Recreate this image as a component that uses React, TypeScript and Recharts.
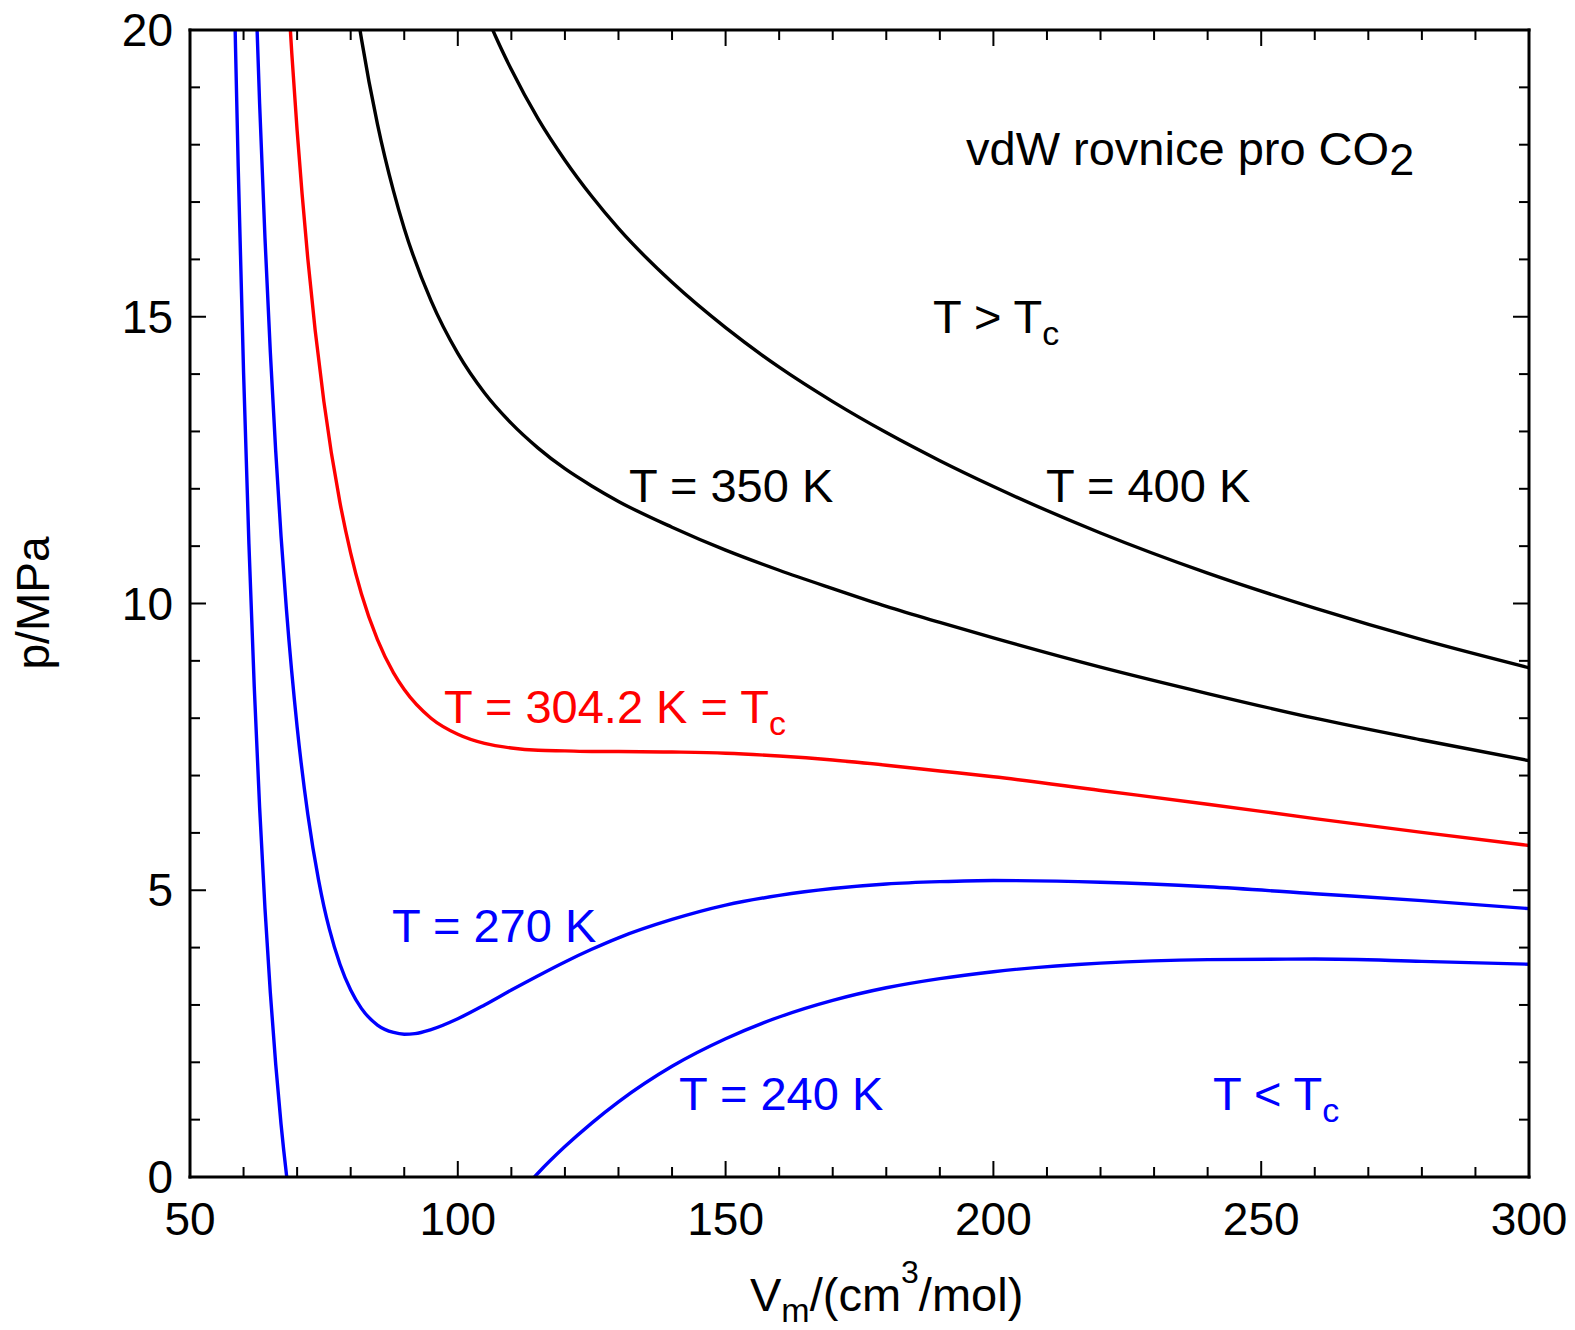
import { LineChart, Line, XAxis, YAxis } from 'recharts';

// isotherms: molar volume (cm3/mol) and pressure (MPa)
const t400V = [105, 107, 110, 115, 120, 125, 130, 140, 150, 160, 170, 180, 190, 200, 220, 240, 260, 280, 300];
const t400P = [20.34, 19.9, 19.31, 18.45, 17.73, 17.1, 16.54, 15.6, 14.81, 14.12, 13.52, 12.98, 12.49, 12.04, 11.23, 10.53, 9.92, 9.37, 8.88];

const t350V = [80, 82, 85, 88, 90, 95, 100, 105, 110, 115, 120, 125, 130, 140, 150, 160, 170, 180, 190, 200, 220, 240, 260, 280, 300];
const t350P = [21.07, 19.85, 18.36, 17.19, 16.54, 15.28, 14.36, 13.67, 13.14, 12.71, 12.35, 12.05, 11.78, 11.33, 10.93, 10.58, 10.26, 9.95, 9.67, 9.4, 8.89, 8.43, 8.0, 7.62, 7.26];

const tcV = [68, 69, 70, 72, 75, 78, 80, 82, 85, 88, 90, 95, 100, 105, 110, 115, 120, 125, 130, 140, 150, 160, 170, 180, 190, 200, 220, 240, 260, 280, 300];
const tcP = [21.13, 19.6, 18.25, 16.01, 13.52, 11.76, 10.88, 10.17, 9.37, 8.79, 8.5, 8.0, 7.72, 7.56, 7.48, 7.44, 7.43, 7.42, 7.42, 7.41, 7.39, 7.34, 7.27, 7.18, 7.08, 6.98, 6.74, 6.5, 6.25, 6.01, 5.78];

const t270V = [62, 63, 64, 65, 66, 67, 68, 70, 72, 74, 75, 76, 78, 80, 82, 85, 88, 90, 92, 95, 100, 105, 110, 115, 120, 125, 130, 140, 150, 160, 170, 180, 190, 200, 220, 240, 260, 280, 300];
const t270P = [21.44, 18.71, 16.37, 14.38, 12.66, 11.17, 9.9, 7.85, 6.32, 5.18, 4.72, 4.33, 3.71, 3.26, 2.94, 2.65, 2.52, 2.49, 2.5, 2.57, 2.76, 3.0, 3.26, 3.51, 3.75, 3.97, 4.17, 4.49, 4.74, 4.91, 5.03, 5.11, 5.15, 5.17, 5.14, 5.06, 4.94, 4.82, 4.68];

// T = 240 K leaves the plot below zero, so it comes in two pieces
const t240LeftV = [58, 58.5, 59, 60, 61, 62, 63, 64, 65, 66, 67, 68, 69];
const t240LeftP = [21.96, 19.69, 17.62, 14.03, 11.04, 8.54, 6.44, 4.68, 3.21, 1.97, 0.92, 0.05, -0.67];
const t240RightV = [112, 115, 120, 125, 130, 140, 150, 160, 170, 180, 190, 200, 220, 240, 260, 280, 300];
const t240RightP = [-0.24, 0.07, 0.53, 0.94, 1.31, 1.93, 2.41, 2.79, 3.08, 3.3, 3.46, 3.58, 3.73, 3.79, 3.8, 3.76, 3.71];

const xTicks = [50, 60, 70, 80, 90, 100, 110, 120, 130, 140, 150, 160, 170, 180, 190, 200, 210, 220, 230, 240, 250, 260, 270, 280, 290, 300];
const xLabels = [50, 100, 150, 200, 250, 300];
const yTicks = [0, 1, 2, 3, 4, 5, 6, 7, 8, 9, 10, 11, 12, 13, 14, 15, 16, 17, 18, 19, 20];
const yLabels = [0, 5, 10, 15, 20];

const FONT = '"Liberation Sans", Arial, Helvetica, sans-serif';

const toPoints = (vs: number[], ps: number[]) => vs.map((v, i) => ({ v, p: ps[i] }));

const curves = [
    { key: 't400', data: toPoints(t400V, t400P), color: '#000000' },
    { key: 't350', data: toPoints(t350V, t350P), color: '#000000' },
    { key: 'tc', data: toPoints(tcV, tcP), color: '#ff0000' },
    { key: 't270', data: toPoints(t270V, t270P), color: '#0000ff' },
    { key: 't240a', data: toPoints(t240LeftV, t240LeftP), color: '#0000ff' },
    { key: 't240b', data: toPoints(t240RightV, t240RightP), color: '#0000ff' },
];

function XTick(props: any) {
    const { x, y, payload, side } = props;
    const major = xLabels.includes(payload.value);
    const len = major ? 16 : 10;
    const dir = side === 'top' ? 1 : -1;
    return (
        <g>
            <line x1={x} x2={x} y1={y} y2={y + dir * len} stroke="#000" strokeWidth={2} />
            {side !== 'top' && major && (
                <text x={x} y={y + 58} textAnchor="middle" fontSize={46} fontFamily={FONT} fill="#000">
                    {payload.value}
                </text>
            )}
        </g>
    );
}

function YTick(props: any) {
    const { x, y, payload, side } = props;
    const major = yLabels.includes(payload.value);
    const len = major ? 16 : 10;
    const dir = side === 'right' ? -1 : 1;
    return (
        <g>
            <line x1={x} x2={x + dir * len} y1={y} y2={y} stroke="#000" strokeWidth={2} />
            {side !== 'right' && major && (
                <text x={x - 17} y={y + 16} textAnchor="end" fontSize={46} fontFamily={FONT} fill="#000">
                    {payload.value}
                </text>
            )}
        </g>
    );
}

const frame = { stroke: '#000', strokeWidth: 3, strokeLinecap: 'square' as const };

export default function App() {
    return (
        <div style={{ position: 'absolute', left: 0, top: 0, width: 1575, height: 1330, background: '#fff' }}>
            <LineChart width={1575} height={1330} margin={{ top: 29, right: 45, bottom: 152, left: 189 }}>
                <XAxis
                    dataKey="v"
                    type="number"
                    domain={[50, 300]}
                    allowDataOverflow
                    ticks={xTicks}
                    interval={0}
                    height={1}
                    tickSize={0}
                    tickMargin={0}
                    axisLine={frame}
                    tickLine={false}
                    tick={(p: any) => <XTick {...p} side="bottom" />}
                />
                <XAxis
                    xAxisId="top"
                    orientation="top"
                    dataKey="v"
                    type="number"
                    domain={[50, 300]}
                    allowDataOverflow
                    ticks={xTicks}
                    interval={0}
                    height={1}
                    tickSize={0}
                    tickMargin={0}
                    axisLine={frame}
                    tickLine={false}
                    tick={(p: any) => <XTick {...p} side="top" />}
                />
                <YAxis
                    type="number"
                    domain={[0, 20]}
                    allowDataOverflow
                    ticks={yTicks}
                    interval={0}
                    width={1}
                    tickSize={0}
                    tickMargin={0}
                    axisLine={frame}
                    tickLine={false}
                    tick={(p: any) => <YTick {...p} side="left" />}
                />
                <YAxis
                    yAxisId="right"
                    orientation="right"
                    type="number"
                    domain={[0, 20]}
                    allowDataOverflow
                    ticks={yTicks}
                    interval={0}
                    width={1}
                    tickSize={0}
                    tickMargin={0}
                    axisLine={frame}
                    tickLine={false}
                    tick={(p: any) => <YTick {...p} side="right" />}
                />
                {curves.map((c) => (
                    <Line
                        key={c.key}
                        data={c.data}
                        dataKey="p"
                        type="monotone"
                        stroke={c.color}
                        strokeWidth={3.4}
                        dot={false}
                        activeDot={false}
                        isAnimationActive={false}
                    />
                ))}
                {/* keeps the top/right frame axes attached to data */}
                <Line
                    data={curves[0].data}
                    dataKey="p"
                    xAxisId="top"
                    yAxisId="right"
                    stroke="none"
                    dot={false}
                    activeDot={false}
                    isAnimationActive={false}
                />
            </LineChart>
            <svg
                width={1575}
                height={1330}
                style={{ position: 'absolute', left: 0, top: 0, pointerEvents: 'none' }}
                fontFamily={FONT}
            >
                <text x={966} y={165} fontSize={47} fill="#000">
                    vdW rovnice pro CO<tspan fontSize={45} dy={10}>2</tspan>
                </text>
                <text x={933} y={333} fontSize={47} fill="#000">
                    {'T > T'}<tspan fontSize={34} dy={12}>c</tspan>
                </text>
                <text x={629} y={502} fontSize={47} fill="#000">
                    T = 350 K
                </text>
                <text x={1046} y={502} fontSize={47} fill="#000">
                    T = 400 K
                </text>
                <text x={444} y={723} fontSize={47} fill="#ff0000">
                    T = 304.2 K = T<tspan fontSize={34} dy={12}>c</tspan>
                </text>
                <text x={392} y={942} fontSize={47} fill="#0000ff">
                    T = 270 K
                </text>
                <text x={679} y={1110} fontSize={47} fill="#0000ff">
                    T = 240 K
                </text>
                <text x={1213} y={1110} fontSize={47} fill="#0000ff">
                    {'T < T'}<tspan fontSize={34} dy={12}>c</tspan>
                </text>
                <text x={49} y={603} transform="rotate(-90 49 603)" textAnchor="middle" fontSize={46} fill="#000">
                    p/MPa
                </text>
                <text x={750} y={1311} fontSize={47} fill="#000">
                    V<tspan fontSize={34} dy={11}>m</tspan><tspan fontSize={47} dy={-11}>/(cm</tspan><tspan fontSize={32} dy={-28}>3</tspan><tspan fontSize={47} dy={28}>/mol)</tspan>
                </text>
            </svg>
        </div>
    );
}
